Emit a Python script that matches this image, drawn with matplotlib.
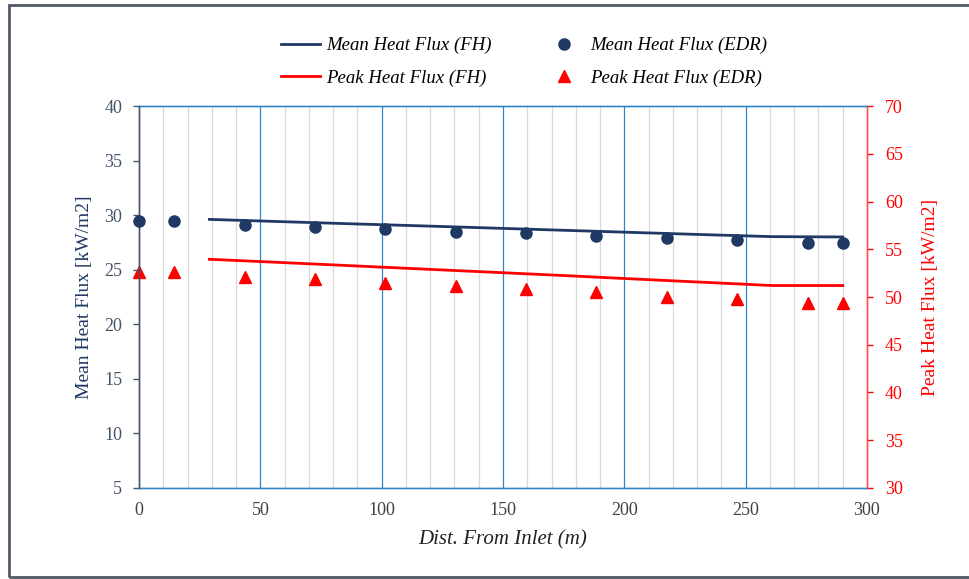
import matplotlib
matplotlib.use("Agg")
import matplotlib.pyplot as plt
from matplotlib.lines import Line2D
from matplotlib.patches import Rectangle
import numpy as np

# Data
edr_x = [0, 14.5, 43.5, 72.5, 101.5, 130.5, 159.5, 188.5, 217.5, 246.5, 275.5, 290]
mean_edr = [29.42, 29.42, 29.09, 28.94, 28.73, 28.48, 28.33, 28.08, 27.87, 27.72, 27.47, 27.47]
peak_edr = [52.65, 52.65, 52.06, 51.85, 51.43, 51.18, 50.8, 50.55, 50.03, 49.76, 49.34, 49.34]

fh_x = [29, 58, 87, 116, 145, 174, 203, 232, 261, 290]
mean_fh = [29.61, 29.41, 29.21, 29.02, 28.82, 28.62, 28.42, 28.22, 28.03, 28.0]
peak_fh = [53.95, 53.62, 53.28, 52.94, 52.6, 52.26, 51.9, 51.55, 51.2, 51.2]

x_ticks = [0, 50, 100, 150, 200, 250, 300]
left_ticks = [5, 10, 15, 20, 25, 30, 35, 40]
right_ticks = [30, 35, 40, 45, 50, 55, 60, 65, 70]

NAVY = "#1F3864"
SLATE = "#44546A"
RED = "#FF0000"
BLUE = "#2E86C8"
GRID = "#D9D9D9"

plt.rcParams['font.family'] = ['Liberation Serif', 'DejaVu Serif']

fig = plt.figure(figsize=(9.69, 5.79), dpi=100)
ax = fig.add_axes([139/969, 1-488/579, (867-139)/969, (488-106)/579])
ax2 = ax.twinx()

ax.set_xlim(0, 300)
ax.set_ylim(5, 40)
ax2.set_ylim(30, 70)

# gridlines drawn on the lower (right) axes so markers sit above them
for xv in np.arange(10, 300, 10):
    if xv % 50 == 0:
        ax2.axvline(xv, color=BLUE, lw=0.9, zorder=1)
    else:
        ax2.axvline(xv, color=GRID, lw=0.9, zorder=0.5)

ax.plot(fh_x, mean_fh, color=NAVY, lw=2.0, zorder=3)
ax.plot(edr_x, mean_edr, 'o', color=NAVY, ms=8, ls='none', zorder=4, clip_on=False)
ax2.plot(fh_x, peak_fh, color=RED, lw=2.0, zorder=3)
ax2.plot(edr_x, peak_edr, '^', color=RED, ms=8, ls='none', zorder=4, clip_on=False)

ax.set_xticks(x_ticks)
ax.set_yticks(left_ticks)
ax2.set_yticks(right_ticks)

for a in (ax, ax2):
    a.spines['top'].set_color(BLUE)
    a.spines['bottom'].set_color(BLUE)
    a.spines['left'].set_color(SLATE)
    a.spines['right'].set_color("#FF5050")
    for s in a.spines.values():
        s.set_linewidth(1.0)

ax.tick_params(axis='x', length=0, pad=10, labelsize=13, labelcolor="#404040")
ax.tick_params(axis='y', length=4, width=1, color=SLATE, labelcolor=SLATE, labelsize=13, pad=8)
ax2.tick_params(axis='y', length=4, width=1, color=RED, labelcolor=RED, labelsize=13, pad=9)

ax.set_xlabel("Dist. From Inlet (m)", fontsize=15, style='italic', color="#222222", labelpad=8)
ax.set_ylabel("Mean Heat Flux [kW/m2]", fontsize=14, color=NAVY, labelpad=8)
ax2.set_ylabel("Peak Heat Flux [kW/m2]", fontsize=14, color=RED, labelpad=14)

ax.set_zorder(ax2.get_zorder() + 1)
ax.patch.set_visible(False)

handles = [
    Line2D([], [], color=NAVY, lw=2),
    Line2D([], [], color=RED, lw=2),
    Line2D([], [], marker='o', color=NAVY, ls='none', ms=8),
    Line2D([], [], marker='^', color=RED, ls='none', ms=8),
]
labels = ["Mean Heat Flux (FH)", "Peak Heat Flux (FH)", "Mean Heat Flux (EDR)", "Peak Heat Flux (EDR)"]
leg = fig.legend(handles, labels, ncol=2, loc='center', bbox_to_anchor=(524/969, 1-62/579),
                 frameon=False, prop={'style': 'italic', 'size': 13.5}, columnspacing=2.8,
                 handlelength=2.1, handletextpad=0.35, labelspacing=0.8)

fig.patches.append(Rectangle((9/969, 2/579), 1.2, 572/579, transform=fig.transFigure,
                             fill=False, edgecolor="#505A68", lw=2, zorder=10))

fig.savefig("out.png", dpi=100)
